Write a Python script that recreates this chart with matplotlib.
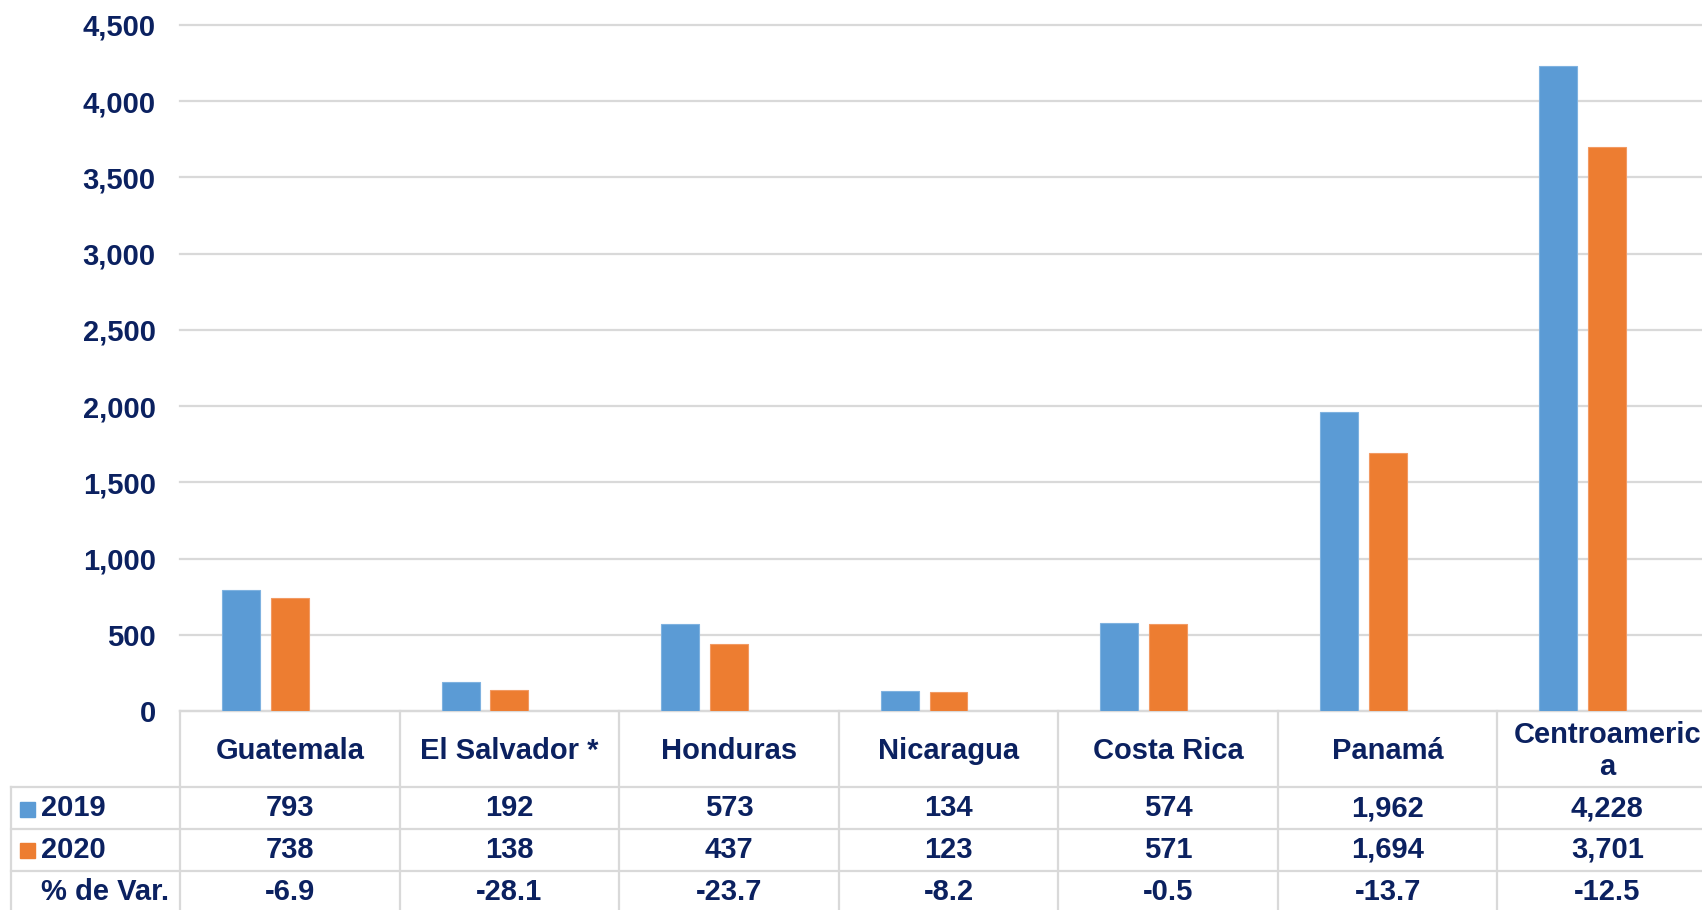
import matplotlib
matplotlib.use("Agg")
import matplotlib.pyplot as plt
import matplotlib.transforms as mtrans
from matplotlib.patches import Rectangle

# data
countries = ["Guatemala", "El Salvador *", "Honduras", "Nicaragua",
             "Costa Rica", "Panamá", "Centroameric\na"]
v2019 = [793, 192, 573, 134, 574, 1962, 4228]
v2020 = [738, 138, 437, 123, 571, 1694, 3701]
var_pct = [-6.9, -28.1, -23.7, -8.2, -0.5, -13.7, -12.5]
yticks = [0, 500, 1000, 1500, 2000, 2500, 3000, 3500, 4000, 4500]

navy = "#0B2160"
blue = "#5B9BD5"
orange = "#ED7D31"
grid = "#D9D9D9"

plt.rcParams["font.family"] = ["Liberation Sans", "DejaVu Sans"]
plt.rcParams["font.weight"] = "bold"

W, H = 1702, 910
fig = plt.figure(figsize=(W / 100, H / 100), dpi=100)

# axes in pixel terms: left 180, right 1717 (past the edge), bottom 711, top 25
x0, x1, yb, yt = 180, 1717, 711, 25
ax = fig.add_axes([x0 / W, (H - yb) / H, (x1 - x0) / W, (yb - yt) / H])

n = len(countries)
idx = list(range(n))
ax.bar([i - 0.222 for i in idx], v2019, width=0.173, color=blue,
       edgecolor="#7FB2E0", linewidth=0.8, zorder=3)
ax.bar([i for i in idx], v2020, width=0.173, color=orange,
       edgecolor="#F29A63", linewidth=0.8, zorder=3)

ax.set_xlim(-0.5, n - 0.5)
ax.set_ylim(0, 4500)
ax.set_yticks(yticks)
ax.set_yticklabels([f"{t:,}" for t in yticks], fontsize=21,
                   fontweight="bold", color=navy)
ax.tick_params(axis="y", length=0, pad=17.5)
ax.set_xticks([])
for s in ax.spines.values():
    s.set_visible(False)
ax.yaxis.grid(True, color=grid, linewidth=1.6, zorder=0)
for gl in ax.get_ygridlines():
    gl.set_clip_on(False)

# data table under the chart (x in category units, y in figure pixels)
px = mtrans.Affine2D().scale(1, -1).translate(0, H)
tr = mtrans.blended_transform_factory(ax.transData, px)
col_w = (x1 - x0) / n
left_x = -0.5 - (x0 - 11) / col_w
row_lines = [787, 829, 871]
fs = 21

kw = dict(color=grid, linewidth=1.6, clip_on=False, transform=tr, zorder=1)
ax.plot([-0.5, n], [yb, yb], **kw)
for y in row_lines:
    ax.plot([left_x, n], [y, y], **kw)
ax.plot([left_x, left_x], [row_lines[0], H], **kw)
for i in range(n + 1):
    ax.plot([i - 0.5, i - 0.5], [yb, H], **kw)

# header row
for i, c in enumerate(countries):
    if "\n" in c:
        top, bot = c.split("\n")
        ax.text(i, 743, top, transform=tr, ha="center", va="baseline",
                fontsize=fs, fontweight="bold", color=navy, clip_on=False)
        ax.text(i, 775, bot, transform=tr, ha="center", va="baseline",
                fontsize=fs, fontweight="bold", color=navy, clip_on=False)
    else:
        ax.text(i, 759, c, transform=tr, ha="center", va="baseline",
                fontsize=fs, fontweight="bold", color=navy, clip_on=False)

rows = [("2019", blue, [f"{v:,}" for v in v2019], 816.5),
        ("2020", orange, [f"{v:,}" for v in v2020], 857.5),
        ("% de Var.", None, [f"{v:.1f}" for v in var_pct], 900)]
for label, col, vals, base in rows:
    if col:
        fig.patches.append(Rectangle((20 / W, (H - base) / H), 15 / W, 15 / H,
                                     transform=fig.transFigure, color=col))
    fig.text(41 / W, (H - base) / H, label, ha="left", va="baseline",
             fontsize=fs, fontweight="bold", color=navy)
    for i, v in enumerate(vals):
        ax.text(i, base, v, transform=tr, ha="center", va="baseline",
                fontsize=fs, fontweight="bold", color=navy, clip_on=False)

fig.savefig("out.png", dpi=100)
